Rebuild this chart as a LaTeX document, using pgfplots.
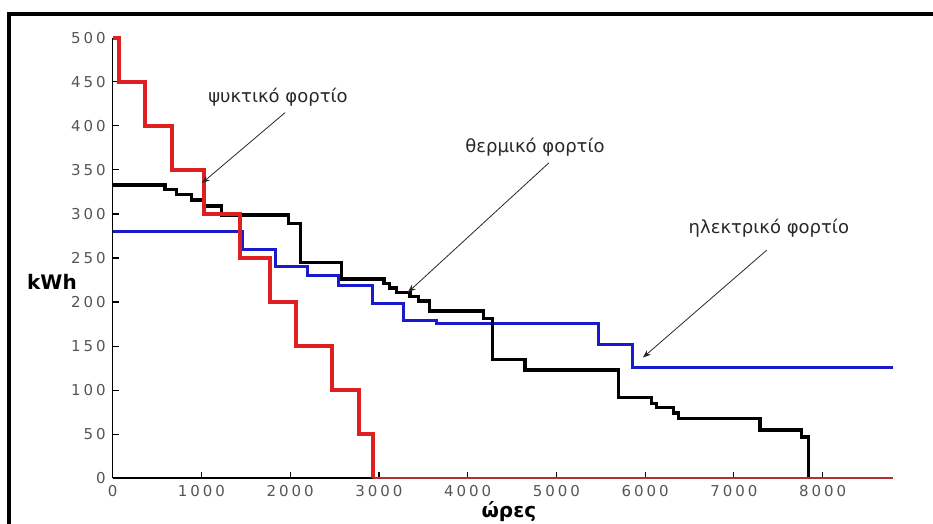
\documentclass[border=0pt]{standalone}
\usepackage{fontspec}
\setmainfont{DejaVu Sans}
\newfontfamily\tickfont[LetterSpace=20]{DejaVu Sans}
\usepackage{pgfplots}
\pgfplotsset{compat=1.18}
\usepackage{pgfplotstable}
\usetikzlibrary{arrows.meta}

\definecolor{loadred}{RGB}{222,32,32}
\definecolor{zerored}{RGB}{175,50,50}
\definecolor{loadblue}{RGB}{25,25,205}
\definecolor{ticktext}{RGB}{85,85,85}
\definecolor{notetext}{RGB}{40,40,40}

% load duration curves, hours vs kWh (step values)
\pgfplotstableread{
x y
0 280
1465 260
1836 240
2197 230
2550 219
2929 198
3282 179
3650 176
5472 152
5855 126
8790 126
}\electric

\pgfplotstableread{
x y
0 333
590 328
721 322
890 316
1032 309
1228 299
1979 289
2118 245
2580 226
3057 221
3117 216
3200 211
3350 206
3444 201
3568 190
4176 181
4282 135
4646 123
5697 92
6073 85
6130 80
6317 74
6373 68
7293 55
7763 47
7838 0
}\thermal

\pgfplotstableread{
x y
0 500
75 450
364 400
672 350
1025 300
1434 250
1773 200
2066 150
2468 100
2775 50
2937 0
}\cooling

\begin{document}
\begin{tikzpicture}
\useasboundingbox (-56.35pt,-22.85pt) rectangle (410.15pt,239.15pt);
\draw[line width=2pt] (-52pt,-40pt) -- (-52pt,232.15pt) -- (420pt,232.15pt);
\begin{axis}[
    scale only axis,
    width=390pt, height=220.3pt,
    at={(0,0)}, anchor=south west,
    xmin=0, xmax=8790,
    ymin=0, ymax=500,
    axis x line=bottom, axis y line=left,
    axis line style={-, line width=0.8pt},
    xtick={0,1000,...,8000},
    ytick={0,50,...,500},
    tick align=inside,
    major tick length=3pt,
    tick style={black, line width=0.6pt},
    tick label style={font=\tickfont\fontsize{7.5}{9}\selectfont, text=ticktext},
    /pgf/number format/assume math mode=true,
    /pgf/number format/1000 sep={},
    clip=false,
]

\addplot[const plot, color=loadblue, line width=1.5pt] table {\electric};
\addplot[const plot, color=black, line width=1.7pt] table {\thermal};
\addplot[color=zerored, line width=1.1pt] coordinates {(2937,0.6) (8790,0.6)};
\addplot[const plot, color=loadred, line width=1.9pt] table {\cooling};

\node[font=\fontsize{9}{11}\selectfont, text=notetext] at (axis cs:1863,432) {ψυκτικό φορτίο};
\node[font=\fontsize{9}{11}\selectfont, text=notetext] at (axis cs:4759,376) {θερμικό φορτίο};
\node[font=\fontsize{9}{11}\selectfont, text=notetext] at (axis cs:7395,284) {ηλεκτρικό φορτίο};

\draw[-{Stealth[length=4pt,width=3pt]}, line width=0.4pt, notetext] (axis cs:1943,415) -- (axis cs:1006,335);
\draw[-{Stealth[length=4pt,width=3pt]}, line width=0.4pt, notetext] (axis cs:4916,358) -- (axis cs:3327,211);
\draw[-{Stealth[length=4pt,width=3pt]}, line width=0.4pt, notetext] (axis cs:7372,259) -- (axis cs:5975,137);

\node[font=\bfseries\fontsize{10}{12}\selectfont, xshift=-30.35pt] at (axis cs:0,223) {kWh};
\node[font=\bfseries\fontsize{10}{12}\selectfont, yshift=-16.85pt] at (axis cs:4465,0) {ώρες};

\end{axis}
\end{tikzpicture}
\end{document}
